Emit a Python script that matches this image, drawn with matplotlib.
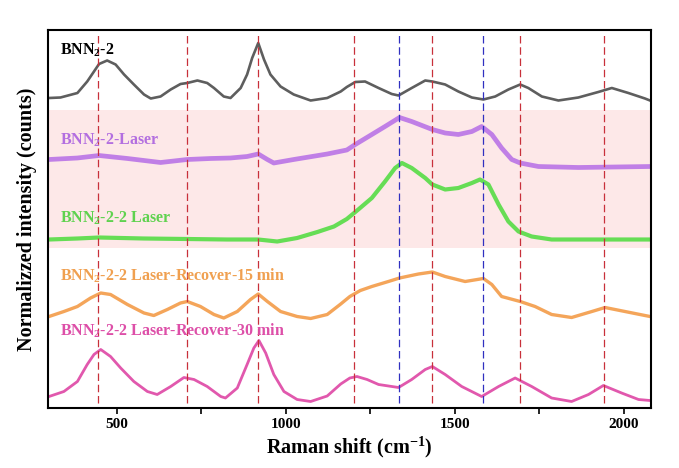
import numpy as np
import matplotlib
matplotlib.use("Agg")
import matplotlib.pyplot as plt

plt.rcParams['font.family'] = ['Liberation Serif', 'DejaVu Serif']
plt.rcParams['font.weight'] = 'bold'
plt.rcParams['mathtext.fontset'] = 'custom'
plt.rcParams['mathtext.rm'] = 'Liberation Serif:bold'
plt.rcParams['mathtext.bf'] = 'Liberation Serif:bold'

# spectra (raman shift, relative intensity)
x_bnn = [299, 333, 383, 412, 432, 447, 471, 496, 521, 550, 580, 600, 629, 659, 688, 708, 738,
         767, 787, 816, 836, 866, 885, 900, 918, 935, 954, 984, 1023, 1073, 1122, 1162,
         1180, 1205, 1234, 1274, 1313, 1333, 1372, 1412, 1433, 1471, 1510, 1550, 1584,
         1619, 1658, 1693, 1717, 1757, 1806, 1865, 1924, 1964, 2013, 2062, 2077]
y_bnn = [10, 10.5, 15, 26.5, 36.5, 44, 47.5, 43.5, 33.5, 23.5, 13.5, 9.5, 11.5, 18.5, 24, 25, 27.5,
         25, 20, 11.5, 10, 20, 33.5, 50, 65, 48.5, 33.5, 21.5, 13.5, 7.5, 10, 16.5,
         21, 26, 26.5, 20, 14, 12.5, 20, 27.5, 26.5, 23.5, 16.5, 10.5, 8.5,
         11.5, 18.5, 23.5, 20, 11.5, 7.5, 10.5, 16, 20, 15, 9.5, 7.5]

x_laser = [299, 383, 447, 531, 629, 708, 777, 836, 885, 918, 945, 964, 1023, 1122,
           1180, 1205, 1254, 1293, 1336, 1372, 1433, 1471, 1510, 1550, 1579, 1609, 1638,
           1668, 1693, 1747, 1865, 2077]
y_laser = [8.5, 10, 12.5, 9.5, 5.5, 8.5, 9.5, 10, 11.5, 14, 8.5, 5, 8.5, 14,
           18, 23.5, 33.5, 41.5, 50.5, 46.5, 38.5, 35, 33.5, 36.5, 41.5, 33.5, 20,
           8.5, 5, 1.5, 0.5, 1.5]

x_laser2 = [299, 383, 447, 580, 708, 826, 918, 974, 1033, 1093, 1142,
            1180, 1214, 1254, 1293, 1323, 1343, 1372, 1412, 1433, 1471, 1510, 1550, 1574,
            1599, 1629, 1658, 1688, 1727, 1786, 2077]
y_laser2 = [0.5, 1.5, 2.5, 1.5, 1, 0.5, 0.5, -1.5, 2, 8, 13.5,
            21, 30.5, 42, 58.5, 72, 77, 72, 62, 55.5, 50.5, 52, 57, 60.5,
            55.5, 35.5, 18.5, 8.5, 3.5, 0.5, 0.5]

x_rec15 = [299, 343, 383, 422, 452, 481, 531, 580, 609, 649, 688, 708, 747, 787, 816, 856,
           895, 918, 945, 984, 1033, 1073, 1122, 1162,
           1189, 1220, 1254, 1303, 1336, 1392, 1433, 1471, 1530, 1584, 1609, 1638, 1693,
           1737, 1786, 1845, 1905, 1944, 2003, 2062, 2077]
y_rec15 = [1.5, 6.5, 11.5, 20, 25, 23.5, 13.5, 5, 2.5, 8.5, 15, 16.5, 11.5, 3.5, 0, 6.5,
           18.5, 24, 16.5, 6.5, 1.5, -0.5, 3.5, 14,
           21.5, 27.5, 31.5, 36.5, 40, 44, 46, 41.5, 36.5, 39.5, 33.5, 21.5, 16.5,
           11.5, 3.5, 0.5, 6.5, 10.5, 6.5, 2.5, 1.5]

x_rec30 = [299, 343, 383, 412, 432, 452, 481, 511, 550, 590, 619, 659, 698, 728, 767, 807,
           821, 856, 885, 905, 920, 940, 964, 994, 1033, 1073, 1122, 1162,
           1189, 1210, 1240, 1274, 1333, 1372, 1412, 1433, 1471, 1520, 1579, 1629, 1678,
           1727, 1786, 1845, 1895, 1939, 1993, 2043, 2077]
y_rec30 = [3.5, 8.5, 18.5, 35.5, 45.5, 50.5, 43.5, 32, 18.5, 8.5, 5.5, 13.5, 22.5, 20.5, 13.5, 3.5,
           2, 12, 35.5, 52, 59.5, 47, 25.5, 8.5, 0.5, -1.5, 4, 16,
           22, 23.5, 20.5, 15.5, 12.5, 20.5, 30.5, 33.5, 25.5, 13.5, 3.5, 13.5, 22,
           13.5, 2, -1.5, 5.5, 14.5, 7, 0.5, -0.5]

labels = ['BNN$_\\mathregular{2}$-2',
          'BNN$_\\mathregular{2}$-2-Laser',
          'BNN$_\\mathregular{2}$-2-2 Laser',
          'BNN$_\\mathregular{2}$-2-2 Laser-Recover-15 min',
          'BNN$_\\mathregular{2}$-2-2 Laser-Recover-30 min']
offsets = [300, 240, 168, 90, 8]
label_y = [358, 268, 190, 132, 77]

red_lines = [445, 708, 917, 1200, 1432, 1692, 1940]
blue_lines = [1335, 1583]

colors = ['#5e5e5e', '#c07fe6', '#66dd55', '#f4a55a', '#e158ad']
text_colors = ['black', '#b36fe0', '#5fd24f', '#f0a050', '#dd4fa8']
widths = [1.9, 3.4, 3.0, 2.4, 2.0]

fig = plt.figure(figsize=(6.79, 4.68), dpi=100)
ax = fig.add_axes([0.0707, 0.1282, 0.8881, 0.8077])

ax.axhspan(160, 298, color='#fde8e8', zorder=0, lw=0)

xs = [x_bnn, x_laser, x_laser2, x_rec15, x_rec30]
ys = [y_bnn, y_laser, y_laser2, y_rec15, y_rec30]
for xx, yy, off, c, w in zip(xs, ys, offsets, colors, widths):
    ax.plot(xx, np.array(yy) + off, color=c, lw=w, zorder=2, solid_joinstyle='round')

for xv in red_lines:
    ax.axvline(xv, ymin=0.013, ymax=0.987, color='#c8303a', ls=(0, (6, 3)), lw=0.9, zorder=3)
for xv in blue_lines:
    ax.axvline(xv, ymin=0.013, ymax=0.987, color='#3030c0', ls=(0, (6, 3)), lw=0.9, zorder=3)

for lab, ly, c in zip(labels, label_y, text_colors):
    ax.text(331, ly, lab, color=c, fontsize=11.5,
            fontweight='bold', va='center', ha='left', zorder=4)

ax.set_xlim(296, 2080)
ax.set_ylim(0, 378)
ax.set_yticks([])
ax.set_xticks([500, 1000, 1500, 2000])
ax.set_xticks([750, 1250, 1750], minor=True)
ax.tick_params(axis='x', which='both', direction='out', length=4, width=1.2, labelsize=11)
for lab in ax.get_xticklabels():
    lab.set_fontweight('bold')
for s in ax.spines.values():
    s.set_linewidth(1.5)

ax.set_xlabel('Raman shift (cm$^{\\mathregular{-1}}$)', fontsize=14.5, fontweight='bold', labelpad=2)
ax.set_ylabel('Normalizzed intensity (counts)', fontsize=14.5, fontweight='bold', labelpad=8)

fig.savefig('out.png', dpi=100)
